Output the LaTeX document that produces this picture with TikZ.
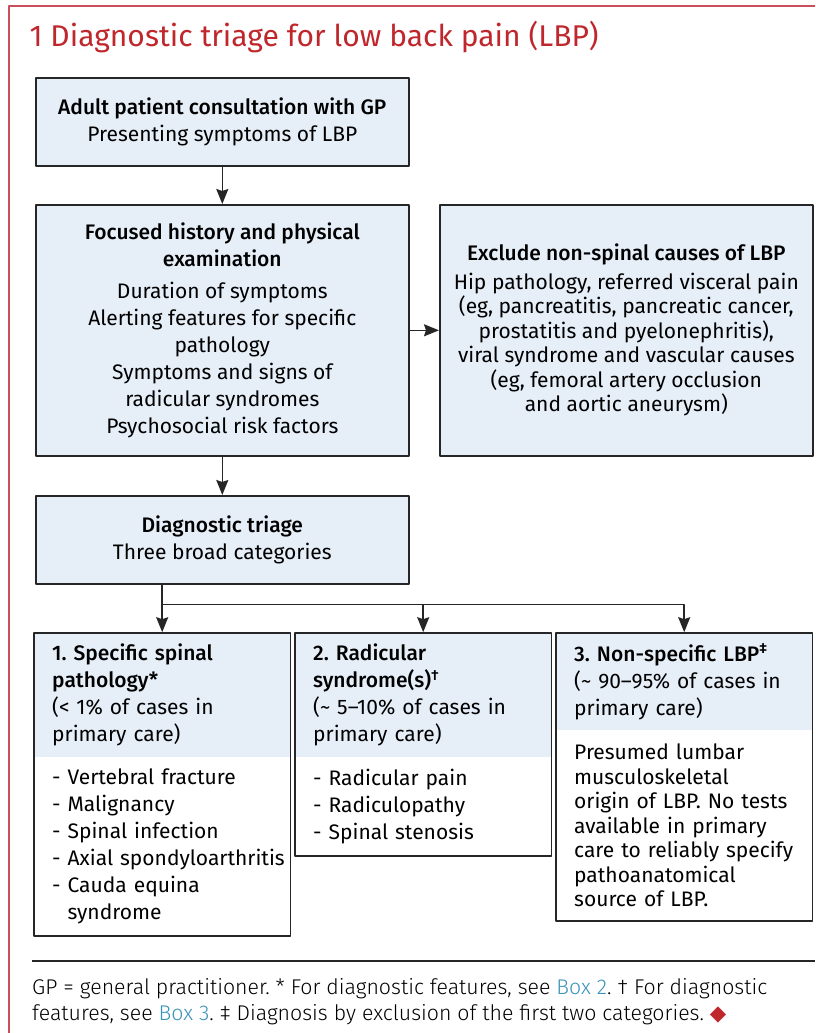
\documentclass[tikz,border=0pt]{standalone}
\usepackage{fontspec}
\setmainfont{Fira Sans}[BoldFont={Fira Sans Medium}]
\newfontfamily\notefont{Fira Sans Light}
\newfontfamily\symfont{DejaVu Sans}
\frenchspacing
\usetikzlibrary{arrows.meta,positioning,fit}
\definecolor{boxfill}{HTML}{E6EEF8}
\definecolor{boxline}{HTML}{262626}
\definecolor{titlered}{HTML}{C0272D}
\definecolor{framered}{HTML}{C9505B}
\definecolor{linkblue}{HTML}{3A93B8}
\begin{document}
\begin{tikzpicture}[x=1pt,y=-1pt,>={Stealth[length=15pt,width=12pt,inset=2pt]}, line join=round,
	box/.style={draw=boxline,line width=1.6pt,fill=boxfill,inner sep=0pt,anchor=north west,align=center,
		font=\fontsize{21}{27}\selectfont},
	cathead/.style={fill=boxfill,inner xsep=18pt,inner ysep=0pt,text width=220pt,anchor=north west,align=left,
		font=\fontsize{21}{27}\selectfont},
	catbody/.style={cathead,fill=white,below=0pt of #1},
	catframe/.style={draw=boxline,line width=1.6pt,inner sep=0pt},
	arr/.style={->,draw=boxline,line width=1.6pt}]
	\useasboundingbox (0,0) rectangle (815,1033);
	\draw[framered,line width=2pt] (9,1033)--(9,6)--(815,6);
	\node[anchor=base west,text=titlered,font=\fontsize{30}{34}\selectfont] (title) at (26,47) {1 Diagnostic triage for low back pain (LBP)};
	\node[box,minimum width=373,minimum height=88] (consult) at (35,77) {\textbf{Adult patient consultation with GP}\\Presenting symptoms of LBP};
	\node[box,minimum width=373,minimum height=251] (history) at (35,204) {\textbf{Focused history and physical}\\\textbf{examination}\\[5pt]Duration of symptoms\\Alerting features for specific\\pathology\\Symptoms and signs of\\radicular syndromes\\Psychosocial risk factors};
	\node[box,minimum width=373,minimum height=251,font=\fontsize{21}{24.5}\selectfont] (exclude) at (439,204) {\textbf{Exclude non-spinal causes of LBP}\\[4pt]Hip pathology, referred visceral pain\\(eg, pancreatitis, pancreatic cancer,\\prostatitis and pyelonephritis),\\viral syndrome and vascular causes\\(eg, femoral artery occlusion\\and aortic aneurysm)};
	\node[box,minimum width=373,minimum height=88] (triage) at (35,495) {\textbf{Diagnostic triage}\\Three broad categories};
	\node[cathead,minimum height=124] (hd1) at (34,633) {\textbf{1. Specific spinal}\\\textbf{pathology*}\\(< 1\% of cases in\\primary care)};
	\node[catbody=hd1,minimum height=178] (bd1) {- Vertebral fracture\\- Malignancy\\- Spinal infection\\\mbox{- Axial spondyloarthritis}\\- Cauda equina\\\hphantom{- }syndrome};
	\node[cathead,minimum height=124] (hd2) at (295,633) {\textbf{2. Radicular}\\\textbf{syndrome(s)\textsuperscript{†}}\\(\textasciitilde\ 5–10\% of cases in\\primary care)};
	\node[catbody=hd2,minimum height=98] (bd2) {- Radicular pain\\- Radiculopathy\\- Spinal stenosis};
	\node[cathead,minimum height=97] (hd3) at (556,633) {\textbf{3. Non-specific LBP\textsuperscript{‡}}\\(\textasciitilde\ 90–95\% of cases in\\primary care)};
	\node[catbody=hd3,minimum height=190,font=\fontsize{21}{24.5}\selectfont] (bd3) {Presumed lumbar\\musculoskeletal\\origin of LBP. No tests\\available in primary\\care to reliably specify\\pathoanatomical\\source of LBP.};
	\foreach \i in {1,2,3}
	{\node[catframe,fit=(hd\i)(bd\i)] (cat\i) {};}
	\draw[arr] (consult)--(history);
	\draw[arr] (history)--(triage);
	\draw[arr] (history)--(exclude);
	\coordinate (bus) at ([yshift=-20pt]triage.south);
	\draw[arr] (triage.south -| cat1.north)--(cat1.north);
	\draw[arr] (bus -| cat1.north)-|(cat3.north);
	\draw[arr] (bus -| cat2.north)--(cat2.north);
	\draw[boxline,line width=1.6pt] (32,961)--(815,961);
	\node[anchor=north west,inner sep=0pt,align=left,font=\notefont\fontsize{21.3}{26}\selectfont] (note) at (32,978) {GP = general practitioner. * For diagnostic features, see \textcolor{linkblue}{Box 2}. † For diagnostic\\features, see \textcolor{linkblue}{Box 3}. ‡ Diagnosis by exclusion of the first two categories. {\symfont\textcolor{titlered}{◆}}};
\end{tikzpicture}
\end{document}
